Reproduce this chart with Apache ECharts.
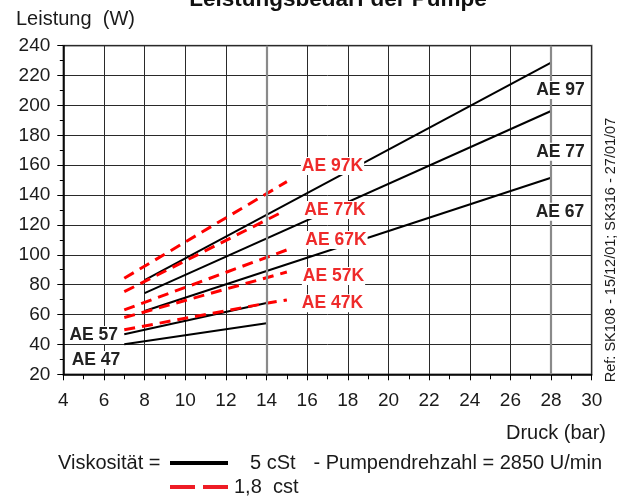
<!DOCTYPE html>
<html>
<head>
<meta charset="utf-8">
<script src="https://cdn.jsdelivr.net/npm/echarts@6/dist/echarts.min.js"></script>
<style>html,body{margin:0;padding:0;background:#fff}#c{width:625px;height:497px}</style>
</head>
<body>
<div id="c"></div>
<script>
// ---- data (pressure in bar, power in W) ----
const xTicks = [4, 6, 8, 10, 12, 14, 16, 18, 20, 22, 24, 26, 28, 30];
const yTicks = [20, 40, 60, 80, 100, 120, 140, 160, 180, 200, 220, 240];

// 5 cSt (solid black)
const ae97 = [[8, 83], [28, 228.6]];
const ae77 = [[8, 74.3], [28, 196.3]];
const ae67 = [[8, 62.4], [28, 151.6]];
const ae57 = [[7, 46.8], [14, 67.8]];
const ae47 = [[7, 40.1], [14, 54.2]];

// 1,8 cst (dashed red)
const ae97k = [[7, 84.3], [15, 149]];
const ae77k = [[7, 75.3], [14.75, 128.5]];
const ae67k = [[7, 63.1], [15, 103.3]];
const ae57k = [[7, 58], [15, 88.5]];
const ae47k = [[7, 49.8], [10, 57.5], [14, 67.6], [15, 69.8]];

const blackNames = ['AE 97', 'AE 77', 'AE 67', 'AE 57', 'AE 47'];
const redNames = ['AE 97K', 'AE 77K', 'AE 67K', 'AE 57K', 'AE 47K'];

const FONT = '"Liberation Sans", Arial, sans-serif';
const chart = echarts.init(document.getElementById('c'), null, {renderer: 'canvas'});

function solid(name, data, extra) {
  return Object.assign({
    name, type: 'line', data, symbol: 'none', silent: true, z: 3,
    lineStyle: {color: '#000', width: 2}
  }, extra || {});
}
function dashed(name, data) {
  return {
    name, type: 'line', data, symbol: 'none', silent: true, z: 4,
    lineStyle: {color: '#ff0000', width: 3, type: [11, 7]}
  };
}

function lbl(text, x, y, color) {
  return {
    type: 'text', z: 100, silent: true,
    style: {
      text, x, y, fill: color, align: 'center', verticalAlign: 'middle',
      font: 'bold 17.5px ' + FONT, backgroundColor: '#fff', padding: [0, 1]
    }
  };
}
function txt(text, x, y, size, align, extra) {
  return {
    type: 'text', z: 100, silent: true,
    style: Object.assign({
      text, x, y, fill: '#1a1a1a', align: align || 'left', verticalAlign: 'middle',
      font: size + 'px ' + FONT
    }, extra || {})
  };
}

const option = {
  animation: false,
  backgroundColor: '#fff',
  grid: {
    left: 63.3, top: 45.7, width: 528.4, height: 328.6,
    show: true, borderColor: '#8a8a8a', borderWidth: 2, backgroundColor: 'transparent'
  },
  xAxis: {
    type: 'value', min: xTicks[0], max: xTicks[xTicks.length - 1], interval: 2,
    axisLine: {show: true, onZero: false, lineStyle: {color: '#000', width: 1.5}},
    axisTick: {show: true, inside: false, length: 6, lineStyle: {color: '#000'}},
    minorTick: {show: true, splitNumber: 2, length: 5, lineStyle: {color: '#000'}},
    splitLine: {show: true, lineStyle: {color: '#2a2a2a', width: 1}},
    axisLabel: {color: '#1a1a1a', fontSize: 19, fontFamily: FONT, margin: 17,
      formatter: v => xTicks.indexOf(v) >= 0 ? String(v) : ''}
  },
  yAxis: {
    type: 'value', min: yTicks[0], max: yTicks[yTicks.length - 1], interval: 20,
    axisLine: {show: true, onZero: false, lineStyle: {color: '#000', width: 1.5}},
    axisTick: {show: true, inside: false, length: 6, lineStyle: {color: '#000'}},
    minorTick: {show: true, splitNumber: 2, length: 3.5, lineStyle: {color: '#000'}},
    splitLine: {show: true, lineStyle: {color: '#2a2a2a', width: 1}},
    axisLabel: {color: '#1a1a1a', fontSize: 19, fontFamily: FONT, margin: 13,
      formatter: v => yTicks.indexOf(v) >= 0 ? String(v) : ''}
  },
  series: [
    {
      type: 'line', data: [], silent: true, z: 1,
      markLine: {
        silent: true, symbol: 'none', label: {show: false},
        lineStyle: {color: '#8a8a8a', width: 2.2, type: 'solid'},
        data: [{xAxis: 14}, {xAxis: 28}]
      }
    },
    solid(blackNames[0], ae97),
    solid(blackNames[1], ae77),
    solid(blackNames[2], ae67),
    solid(blackNames[3], ae57),
    solid(blackNames[4], ae47),
    dashed(redNames[0], ae97k),
    dashed(redNames[1], ae77k),
    dashed(redNames[2], ae67k),
    dashed(redNames[3], ae57k),
    dashed(redNames[4], ae47k)
  ],
  graphic: [
    // title (cut at the top as in the original)
    {type: 'text', z: 100, silent: true,
     style: {text: 'Leistungsbedarf der Pumpe', x: 338, y: 0, align: 'center', verticalAlign: 'middle',
             fill: '#111', font: 'bold 22.5px ' + FONT}},
    txt('Leistung  (W)', 16, 19, 20),
    txt('Druck (bar)', 606, 433, 20, 'right'),
    txt('Viskosit\u00e4t =', 58, 463, 20),
    {type: 'line', z: 100, silent: true, shape: {x1: 170, y1: 463, x2: 228, y2: 463},
     style: {stroke: '#000', lineWidth: 4}},
    txt('5 cSt', 250, 463, 20),
    txt('- Pumpendrehzahl = 2850 U/min', 602, 463, 20, 'right'),
    {type: 'line', z: 100, silent: true, shape: {x1: 170, y1: 487, x2: 195, y2: 487},
     style: {stroke: '#ee1c25', lineWidth: 4}},
    {type: 'line', z: 100, silent: true, shape: {x1: 203, y1: 487, x2: 228, y2: 487},
     style: {stroke: '#ee1c25', lineWidth: 4}},
    txt('1,8  cst', 234, 487, 20),
    {type: 'text', z: 100, silent: true, x: 611, y: 250, rotation: Math.PI / 2,
     style: {text: 'Ref: SK108 - 15/12/01; SK316 - 27/01/07', x: 0, y: 0, align: 'center',
             verticalAlign: 'middle', fill: '#1a1a1a', font: '14.5px ' + FONT}},
    // curve labels
    lbl(blackNames[0], 560.5, 90, '#222'),
    lbl(blackNames[1], 560.5, 151.7, '#222'),
    lbl(blackNames[2], 560, 211.7, '#222'),
    lbl(blackNames[3], 93.7, 335, '#222'),
    lbl(blackNames[4], 96, 360, '#222'),
    lbl(redNames[0], 332.5, 166, '#ee2a2a'),
    lbl(redNames[1], 335, 210, '#ee2a2a'),
    lbl(redNames[2], 336, 240, '#ee2a2a'),
    lbl(redNames[3], 333.5, 276, '#ee2a2a'),
    lbl(redNames[4], 332.5, 303.3, '#ee2a2a')
  ]
};
chart.setOption(option);
</script>
</body>
</html>
